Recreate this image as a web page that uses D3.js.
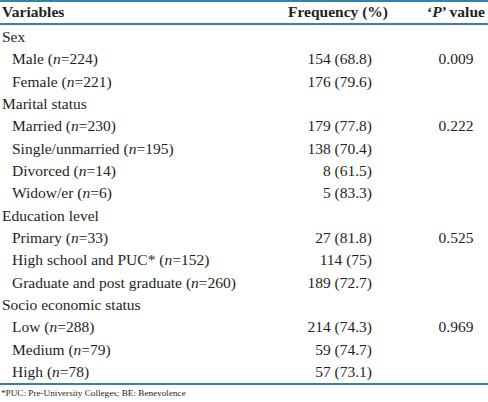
<!DOCTYPE html>
<html><head><meta charset="utf-8">
<script src="https://cdn.jsdelivr.net/npm/d3@7"></script>
<style>
html,body{margin:0;padding:0;background:#fff;}
svg{display:block;}
text{font-family:"Liberation Serif","Times New Roman",serif;fill:#231f20;}
</style></head>
<body>
<script>
// ---- data ----
const headers = ["Variables", "Frequency (%)", "value"];
const groups = ["Sex", "Marital status", "Education level", "Socio economic status"];
const groupPValues = ["0.009", "0.222", "0.525", "0.969"];
const subLabels = [
  ["Male", "Female"],
  ["Married", "Single/unmarried", "Divorced", "Widow/er"],
  ["Primary", "High school and PUC*", "Graduate and post graduate"],
  ["Low", "Medium", "High"]
];
const subN = [[224, 221], [230, 195, 14, 6], [33, 152, 260], [288, 79, 78]];
const freqCounts = [[154, 176], [179, 138, 8, 5], [27, 114, 189], [214, 59, 57]];
const freqPct = [["68.8", "79.6"], ["77.8", "70.4", "61.5", "83.3"], ["81.8", "75", "72.7"], ["74.3", "74.7", "73.1"]];
const footnote = "*PUC: Pre-University Colleges; BE: Benevolence";

// ---- layout ----
const W = 488, H = 402;
const lineColor = "#3b7ea6";
const fs = 15.5;

const rows = [];
groups.forEach((g, gi) => {
  rows.push({type: "group", label: g});
  subLabels[gi].forEach((s, si) => {
    rows.push({type: "sub", label: s, n: subN[gi][si], count: freqCounts[gi][si],
      pct: freqPct[gi][si], p: si === 0 ? groupPValues[gi] : ""});
  });
});

const y = d3.scaleLinear().domain([0, rows.length - 1]).range([42, 377]);
const col = {var: 2, indent: 12, freqRight: 372, freqHeadCenter: 338, pCenter: 456};

const svg = d3.select("body").append("svg").attr("width", W).attr("height", H);

// rules
svg.append("rect").attr("x", 0).attr("y", 0).attr("width", W).attr("height", 2).attr("fill", lineColor);
svg.append("rect").attr("x", 0).attr("y", 23).attr("width", W).attr("height", 2).attr("fill", lineColor);
svg.append("rect").attr("x", 0).attr("y", 383).attr("width", W).attr("height", 2).attr("fill", lineColor);

// header
const hy = 17;
svg.append("text").attr("x", col.var).attr("y", hy).attr("font-size", fs).attr("font-weight", "bold").text(headers[0]);
svg.append("text").attr("x", col.freqHeadCenter).attr("y", hy).attr("text-anchor", "middle")
  .attr("font-size", fs).attr("font-weight", "bold").text(headers[1]);
const ph = svg.append("text").attr("x", col.pCenter).attr("y", hy).attr("text-anchor", "middle")
  .attr("font-size", fs).attr("font-weight", "bold");
ph.append("tspan").text("\u2018");
ph.append("tspan").attr("font-style", "italic").text("P");
ph.append("tspan").text("\u2019 " + headers[2]);

// body rows
const g = svg.selectAll("g.row").data(rows).join("g").attr("class", "row")
  .attr("transform", (d, i) => `translate(0,${y(i)})`);

g.each(function(d) {
  const sel = d3.select(this);
  if (d.type === "group") {
    sel.append("text").attr("x", col.var).attr("font-size", fs).text(d.label);
  } else {
    const t = sel.append("text").attr("x", col.indent).attr("font-size", fs);
    t.append("tspan").text(d.label + " (");
    t.append("tspan").attr("font-style", "italic").text("n");
    t.append("tspan").text("=" + d.n + ")");
    sel.append("text").attr("x", col.freqRight).attr("text-anchor", "end").attr("font-size", fs)
      .text(`${d.count} (${d.pct})`);
    if (d.p) sel.append("text").attr("x", col.pCenter).attr("text-anchor", "middle").attr("font-size", fs).text(d.p);
  }
});

// footnote
svg.append("text").attr("x", 1).attr("y", 396).attr("font-size", 9.2).text(footnote);
</script>
</body></html>
